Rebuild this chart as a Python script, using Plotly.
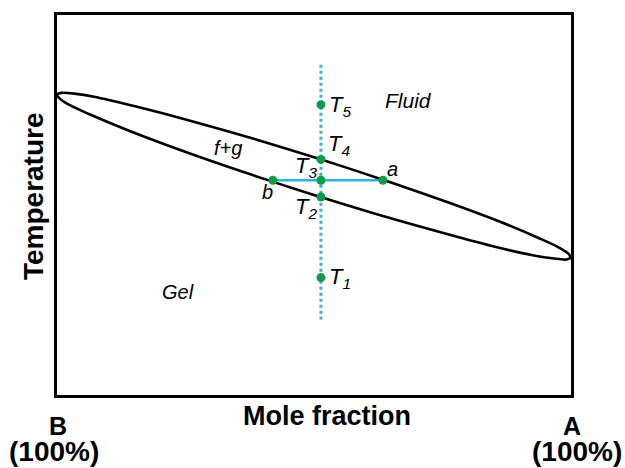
import plotly.graph_objects as go

# Liquidus (upper boundary) and solidus (lower boundary) of the lens
# x: mole fraction of A (0 = pure B, 100 = pure A), y: temperature (arbitrary 0-100)
liquidus_x = [0.0, 0.9, 3.35, 7.2, 15.4, 25.9, 38.1, 51.1, 64.0, 75.9, 86.2, 93.9, 97.4, 99.5, 100.0]
liquidus_y = [79.1, 79.5, 79.3, 78.5, 75.9, 72.2, 67.5, 62.1, 56.4, 50.8, 45.6, 41.2, 39.0, 37.2, 36.1]
solidus_x = [0.0, 0.54, 2.6, 6.1, 13.9, 24.1, 36.0, 48.9, 61.9, 74.1, 84.6, 92.8, 96.7, 99.1, 100.0]
solidus_y = [79.1, 78.0, 76.2, 74.0, 69.6, 64.4, 58.8, 53.1, 47.7, 43.0, 39.2, 36.7, 35.9, 35.65, 36.1]

# Isopleth composition and the temperatures marked on it
x0 = 51.35
T_names = ["1", "2", "3", "4", "5"]
T_values = [30.9, 52.1, 56.5, 62.0, 76.4]
isopleth_y = [86.9, 19.9]

# Tie line at T3
tie_y = 56.5
b_x = 42.0
a_x = 63.4

GREEN = "#0e9a48"
BLUE = "#35aee2"
FONT = "Liberation Sans, Arial, sans-serif"

fig = go.Figure()

# lens (closed curve)
lens_x = liquidus_x + solidus_x[::-1]
lens_y = liquidus_y + solidus_y[::-1]
fig.add_trace(go.Scatter(x=lens_x, y=lens_y, mode="lines",
                         line=dict(color="black", width=2.6, shape="spline", smoothing=0.8),
                         hoverinfo="skip"))

# isopleth
fig.add_trace(go.Scatter(x=[x0, x0], y=isopleth_y, mode="lines",
                         line=dict(color=BLUE, width=3, dash="dot"), hoverinfo="skip"))

# tie line
fig.add_trace(go.Scatter(x=[b_x, a_x], y=[tie_y, tie_y], mode="lines",
                         line=dict(color=BLUE, width=2.5), hoverinfo="skip"))

# points
fig.add_trace(go.Scatter(x=[x0] * len(T_values) + [b_x, a_x],
                         y=T_values + [tie_y, tie_y], mode="markers",
                         marker=dict(color=GREEN, size=9), hoverinfo="skip"))

ann = []
def label(text, x, y, xa="left", ya="middle", size=22):
    ann.append(dict(text=text, x=x, y=y, xref="x", yref="y",
                    xanchor=xa, yanchor=ya, showarrow=False,
                    font=dict(family=FONT, size=size, color="black")))

# T labels: offsets in data units relative to point
T_pos = {
    "1": (x0 + 1.2, T_values[0] - 0.2, "left"),
    "2": (x0 - 0.4, T_values[1] - 3.0, "right"),
    "3": (x0 - 0.4, T_values[2] + 3.6, "right"),
    "4": (x0 + 1.0, T_values[3] + 3.9, "left"),
    "5": (x0 + 1.2, T_values[4] - 0.4, "left"),
}
for n in T_names:
    px, py, xa = T_pos[n]
    label("<i>T<sub>%s</sub></i>" % n, px, py, xa=xa, size=22)

label("<i>Fluid</i>", 68.4, 77.4, xa="center", size=21)
label("<i>f+g</i>", 33.3, 65.0, xa="center", size=20)
label("<i>Gel</i>", 23.5, 27.2, xa="center", size=20)
label("<i>a</i>", 65.2, 59.6, xa="center", size=20)
label("<i>b</i>", 41.0, 53.4, xa="center", size=20)

# axis titles and end labels (paper coords)
def plabel(text, x, y, size, angle=0):
    ann.append(dict(text=text, x=x, y=y, xref="paper", yref="paper",
                    xanchor="center", yanchor="middle", showarrow=False, textangle=angle,
                    font=dict(family=FONT, size=size, color="black")))

plabel("<b>Mole fraction</b>", 0.525, -0.055, 27)
plabel("<b>Temperature</b>", -0.0467, 0.5236, 28, angle=-90)
plabel("<b>B</b>", 0.002, -0.081, 25)
plabel("<b>(100%)</b>", -0.006, -0.149, 28)
plabel("<b>A</b>", 1.002, -0.081, 25)
plabel("<b>(100%)</b>", 1.012, -0.149, 28)

fig.update_layout(
    width=625, height=468,
    margin=dict(l=57, r=54, t=13, b=73),
    paper_bgcolor="white", plot_bgcolor="white",
    showlegend=False,
    annotations=ann,
    xaxis=dict(range=[0, 100], showgrid=False, zeroline=False, showticklabels=False,
               ticks="", showline=True, mirror=True, linecolor="black", linewidth=3),
    yaxis=dict(range=[0, 100], showgrid=False, zeroline=False, showticklabels=False,
               ticks="", showline=True, mirror=True, linecolor="black", linewidth=3),
)

fig.write_html("out.html")
